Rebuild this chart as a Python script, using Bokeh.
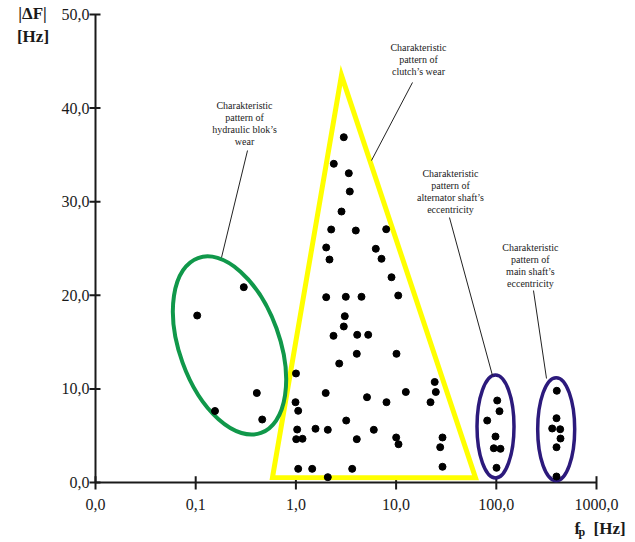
import numpy as np
from bokeh.plotting import figure
from bokeh.core.properties import value
from bokeh.embed import file_html
from bokeh.resources import INLINE

# ---------------- data ----------------
# measured points: fp [Hz] (log axis) and |dF| [Hz]
fp_hz = [
    0.1035, 0.302, 0.1558, 0.4073, 0.4611,
    3.006, 2.389, 3.373, 3.451, 2.852, 2.250, 3.962, 7.963, 2.006, 2.164,
    6.272, 7.150, 8.999, 10.50, 2.006, 3.148, 4.515, 3.076, 3.006, 2.373,
    4.090, 5.267, 4.052, 10.09, 2.705, 1.002, 24.28, 24.90, 1.983, 12.50,
    5.124, 8.018, 22.05, 0.991, 1.054, 3.177, 1.030, 1.569, 2.082, 5.990,
    1.007, 1.164, 4.052, 10.02, 10.57, 29.05, 27.55, 1.054, 1.454, 3.646,
    29.05, 2.082,
    102.1, 107.6, 81.15, 98.2, 94.4, 110.1, 100.5,
    401.6, 398.9, 361.3, 434.1, 437.1, 398.9, 398.9,
]
dF_hz = [
    17.84, 20.87, 7.64, 9.56, 6.73,
    36.89, 34.05, 33.04, 31.09, 28.95, 27.03, 26.92, 27.06, 25.11, 23.82,
    24.97, 23.90, 21.93, 19.98, 19.80, 19.84, 19.84, 17.77, 16.67, 15.67,
    15.78, 15.78, 13.75, 13.75, 12.71, 11.65, 10.74, 9.67, 9.56, 9.67,
    9.11, 8.58, 8.58, 8.58, 7.66, 6.62, 5.66, 5.74, 5.63, 5.63,
    4.63, 4.67, 4.63, 4.81, 4.09, 4.81, 3.77, 1.46, 1.46, 1.46,
    1.68, 0.57,
    8.76, 7.62, 6.62, 4.91, 3.66, 3.60, 1.57,
    9.80, 6.87, 5.77, 5.69, 4.70, 3.77, 0.64,
]

x_ticks = [0.01, 0.1, 1, 10, 100, 1000]
y_ticks = [0, 10, 20, 30, 40, 50]
x_tick_labels = ["0,0", "0,1", "1,0", "10,0", "100,0", "1000,0"]
y_tick_labels = ["0,0", "10,0", "20,0", "30,0", "40,0", "50,0"]

# clutch's wear pattern (triangle vertices)
clutch_x = [0.584, 2.85, 62.0]
clutch_y = [0.53, 43.5, 0.5]

# ellipse pattern centres
hydraulic_center = [0.2175, 14.64]
alternator_center = [98.2, 5.98]
main_shaft_center = [396.0, 5.70]

# callout texts
callout_texts = [
    "Charakteristic\npattern of\nhydraulic blok\u2019s\nwear",
    "Charakteristic\npattern of\nclutch\u2019s wear",
    "Charakteristic\npattern of\nalternator shaft\u2019s\neccentricity",
    "Charakteristic\npattern of\nmain shaft\u2019s\neccentricity",
]
callout_x = [0.307, 16.73, 34.9, 219.0]
callout_y = [38.35, 45.19, 31.09, 23.18]

# leader lines
lead_x0 = [0.329, 14.58, 34.1, 235.0]
lead_y0 = [35.47, 42.74, 28.31, 20.51]
lead_x1 = [0.181, 5.68, 91.6, 317.0]
lead_y1 = [24.04, 34.4, 11.43, 11.11]

# ---------------- layout constants ----------------
W, H = 630, 540
X_ORIGIN_PX, Y_ORIGIN_PX = 95, 482     # where the axes cross
DEC_PX, UNIT_PX = 100.2, 9.36          # pixels per decade / per Hz
SERIF = "Liberation Serif"
INK = "#1a1a1a"

x0, x1 = x_ticks[0], x_ticks[-1]
y0, y1 = y_ticks[0], y_ticks[-1]
x_range = (x0 * 10 ** (-X_ORIGIN_PX / DEC_PX), x0 * 10 ** ((W - X_ORIGIN_PX) / DEC_PX))
y_range = (y0 - (H - Y_ORIGIN_PX) / UNIT_PX, y0 + Y_ORIGIN_PX / UNIT_PX)

p = figure(width=W, height=H, x_axis_type="log",
           x_range=x_range, y_range=y_range,
           x_axis_location=None, y_axis_location=None,
           output_backend="svg", toolbar_location=None, min_border=0)
p.outline_line_color = None
p.grid.visible = False

# ---------------- axes (drawn through the plot's scales) ----------------
p.segment(x0=[x0, x0], y0=[y0, y0], x1=[x1, x0], y1=[y0, y1],
          line_color=INK, line_width=2)
# x tick marks (6 px above, 7 px below) and y tick marks (6 px left, 5 px right)
p.segment(x0=x_ticks, y0=[y0 + 6.3 / UNIT_PX] * len(x_ticks),
          x1=x_ticks, y1=[y0 - 7.0 / UNIT_PX] * len(x_ticks),
          line_color=INK, line_width=2)
p.segment(x0=[x0 * 10 ** (-6 / DEC_PX)] * len(y_ticks), y0=y_ticks,
          x1=[x0 * 10 ** (5 / DEC_PX)] * len(y_ticks), y1=y_ticks,
          line_color=INK, line_width=2)
p.text(x=x_ticks, y=[y0] * len(x_ticks), text=x_tick_labels,
       text_font=value(SERIF), text_font_size="16px", text_color=INK,
       text_align="center", text_baseline="middle", y_offset=22)
p.text(x=[x0] * len(y_ticks), y=y_ticks, text=y_tick_labels,
       text_font=value(SERIF), text_font_size="16px", text_color=INK,
       text_align="right", text_baseline="middle", x_offset=-6)

# ---------------- pattern shapes ----------------
p.patch(clutch_x, clutch_y, fill_color=None, line_color="#ffff00",
        line_width=5, line_join="miter")
p.ellipse(x=[hydraulic_center[0]], y=[hydraulic_center[1]], width=100, height=186,
          angle=np.deg2rad(19.8), width_units="screen", height_units="screen",
          fill_color=None, line_color="#10984a", line_width=4)
p.ellipse(x=[alternator_center[0], main_shaft_center[0]],
          y=[alternator_center[1], main_shaft_center[1]],
          width=37, height=103, width_units="screen", height_units="screen",
          fill_color=None, line_color="#2c1a7c", line_width=3.5)

# leader lines and callout texts
p.segment(x0=lead_x0, y0=lead_y0, x1=lead_x1, y1=lead_y1,
          line_color="#222222", line_width=1)
p.text(x=callout_x, y=callout_y, text=callout_texts,
       text_font=value(SERIF), text_font_size="10px", text_align="center",
       text_baseline="middle", text_line_height=1.1, text_color="#222222")

# points
p.scatter(fp_hz, dF_hz, size=7, color="black")

# ---------------- axis titles ----------------
bold = dict(text_font=value(SERIF), text_font_style="bold", text_color=INK,
            text_baseline="middle")
p.text(x=[x0], y=[y1], text=["|\u0394F|"], text_align="center",
       text_font_size="17px", x_offset=-63, y_offset=-1.5, **bold)
p.text(x=[x0], y=[y1], text=["[Hz]"], text_align="center",
       text_font_size="17px", x_offset=-62.5, y_offset=21.5, **bold)
p.text(x=[x1], y=[y0], text=["f"], text_align="left",
       text_font_size="17px", x_offset=-22, y_offset=46, **bold)
p.text(x=[x1], y=[y0], text=["p"], text_align="left",
       text_font_size="12px", x_offset=-18, y_offset=49.5, **bold)
p.text(x=[x1], y=[y0], text=["[Hz]"], text_align="left",
       text_font_size="17px", x_offset=-3, y_offset=46, **bold)

open("out.html", "w").write(file_html(p, INLINE))
